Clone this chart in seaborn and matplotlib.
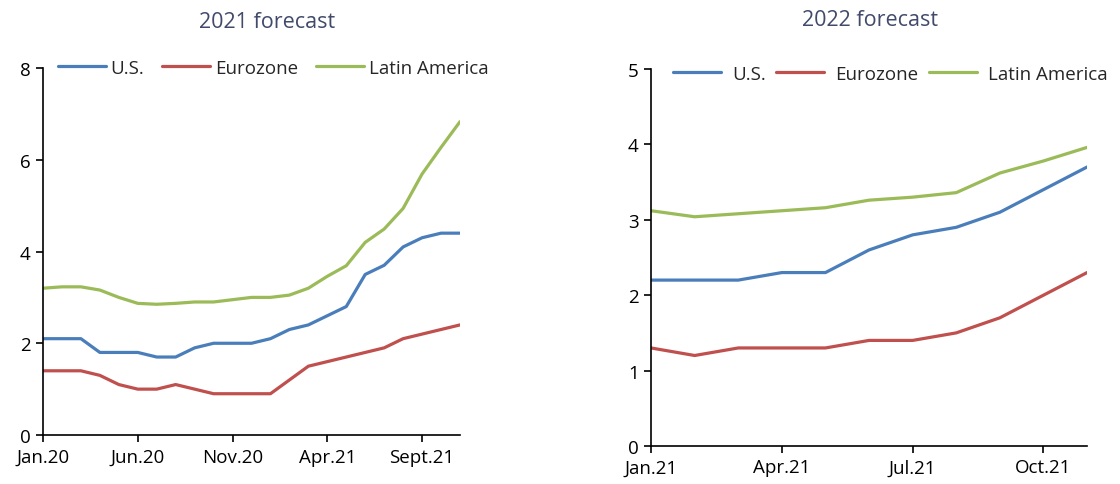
import pandas as pd
import seaborn as sns
import matplotlib.pyplot as plt

# data
months_2021 = ["Jan.20", "Feb.20", "Mar.20", "Apr.20", "May.20", "Jun.20", "Jul.20", "Aug.20",
               "Sep.20", "Oct.20", "Nov.20", "Dec.20", "Jan.21", "Feb.21", "Mar.21", "Apr.21",
               "May.21", "Jun.21", "Jul.21", "Aug.21", "Sept.21", "Oct.21", "Nov.21"]
us_2021 = [2.1, 2.1, 2.1, 1.8, 1.8, 1.8, 1.7, 1.7, 1.9, 2.0, 2.0, 2.0,
           2.1, 2.3, 2.4, 2.6, 2.8, 3.5, 3.7, 4.1, 4.3, 4.4, 4.4]
ez_2021 = [1.4, 1.4, 1.4, 1.3, 1.1, 1.0, 1.0, 1.1, 1.0, 0.9, 0.9, 0.9,
           0.9, 1.2, 1.5, 1.6, 1.7, 1.8, 1.9, 2.1, 2.2, 2.3, 2.4]
latam_2021 = [3.2, 3.23, 3.23, 3.16, 3.0, 2.87, 2.85, 2.87, 2.9, 2.9, 2.95, 3.0,
              3.0, 3.05, 3.2, 3.46, 3.69, 4.2, 4.49, 4.94, 5.69, 6.27, 6.83]
ticks_2021 = ["Jan.20", "Jun.20", "Nov.20", "Apr.21", "Sept.21"]

months_2022 = ["Jan.21", "Feb.21", "Mar.21", "Apr.21", "May.21", "Jun.21", "Jul.21",
               "Aug.21", "Sep.21", "Oct.21", "Nov.21"]
us_2022 = [2.2, 2.2, 2.2, 2.3, 2.3, 2.6, 2.8, 2.9, 3.1, 3.4, 3.7]
ez_2022 = [1.3, 1.2, 1.3, 1.3, 1.3, 1.4, 1.4, 1.5, 1.7, 2.0, 2.3]
latam_2022 = [3.12, 3.04, 3.08, 3.12, 3.16, 3.26, 3.3, 3.36, 3.62, 3.78, 3.96]
ticks_2022 = ["Jan.21", "Apr.21", "Jul.21", "Oct.21"]

series = ["U.S.", "Eurozone", "Latin America"]
colors = ["#4a7ebb", "#c0504d", "#9bbb59"]

sns.set_style("ticks")
plt.rcParams["font.family"] = ["Open Sans", "DejaVu Sans"]


def long_df(months, us, ez, latam):
    df = pd.DataFrame({"month": range(len(months)), "U.S.": us, "Eurozone": ez, "Latin America": latam})
    return df.melt(id_vars="month", var_name="region", value_name="value")


fig = plt.figure(figsize=(11.2, 4.85), dpi=100)
ax1 = fig.add_axes([0.0384, 0.101, 0.3723, 0.7567])
ax2 = fig.add_axes([0.5813, 0.0784, 0.3893, 0.7773])

panels = [
    (ax1, long_df(months_2021, us_2021, ez_2021, latam_2021), months_2021, ticks_2021, 8, [0, 2, 4, 6, 8],
     "2021 forecast", (267 / 1120, 1 - 22 / 485), (0.036, 1.0), 0.95, 0.25),
    (ax2, long_df(months_2022, us_2022, ez_2022, latam_2022), months_2022, ticks_2022, 5, [0, 1, 2, 3, 4, 5],
     "2022 forecast", (870 / 1120, 1 - 20 / 485), (0.05, 0.987), 0.55, 0.6),
]

for ax, df, months, ticks, ymax, yticks, title, tpos, lpos, colsp, htp in panels:
    sns.lineplot(data=df, x="month", y="value", hue="region", hue_order=series,
                 palette=colors, linewidth=2.3, ax=ax)
    ax.set_xlim(0, len(months) - 1)
    ax.set_ylim(0, ymax)
    ax.set_yticks(yticks)
    ax.set_xticks([months.index(t) for t in ticks])
    ax.set_xticklabels(ticks)
    ax.set_xlabel("")
    ax.set_ylabel("")
    for s in ["top", "right"]:
        ax.spines[s].set_visible(False)
    for s in ["left", "bottom"]:
        ax.spines[s].set_color("black")
        ax.spines[s].set_linewidth(1.2)
    ax.tick_params(axis="both", labelsize=13.5, colors="black", length=5, width=1.2, direction="out", pad=4)
    handles, labels = ax.get_legend_handles_labels()
    ax.legend(handles, labels, loc="center left", bbox_to_anchor=lpos, ncol=3, frameon=False,
              fontsize=13.5, handlelength=2.56, handletextpad=htp, columnspacing=colsp,
              borderpad=0, borderaxespad=0)
    fig.text(tpos[0], tpos[1], title, ha="center", va="center", fontsize=15.5, color="#414a6b")

fig.savefig("out.png", dpi=100)
